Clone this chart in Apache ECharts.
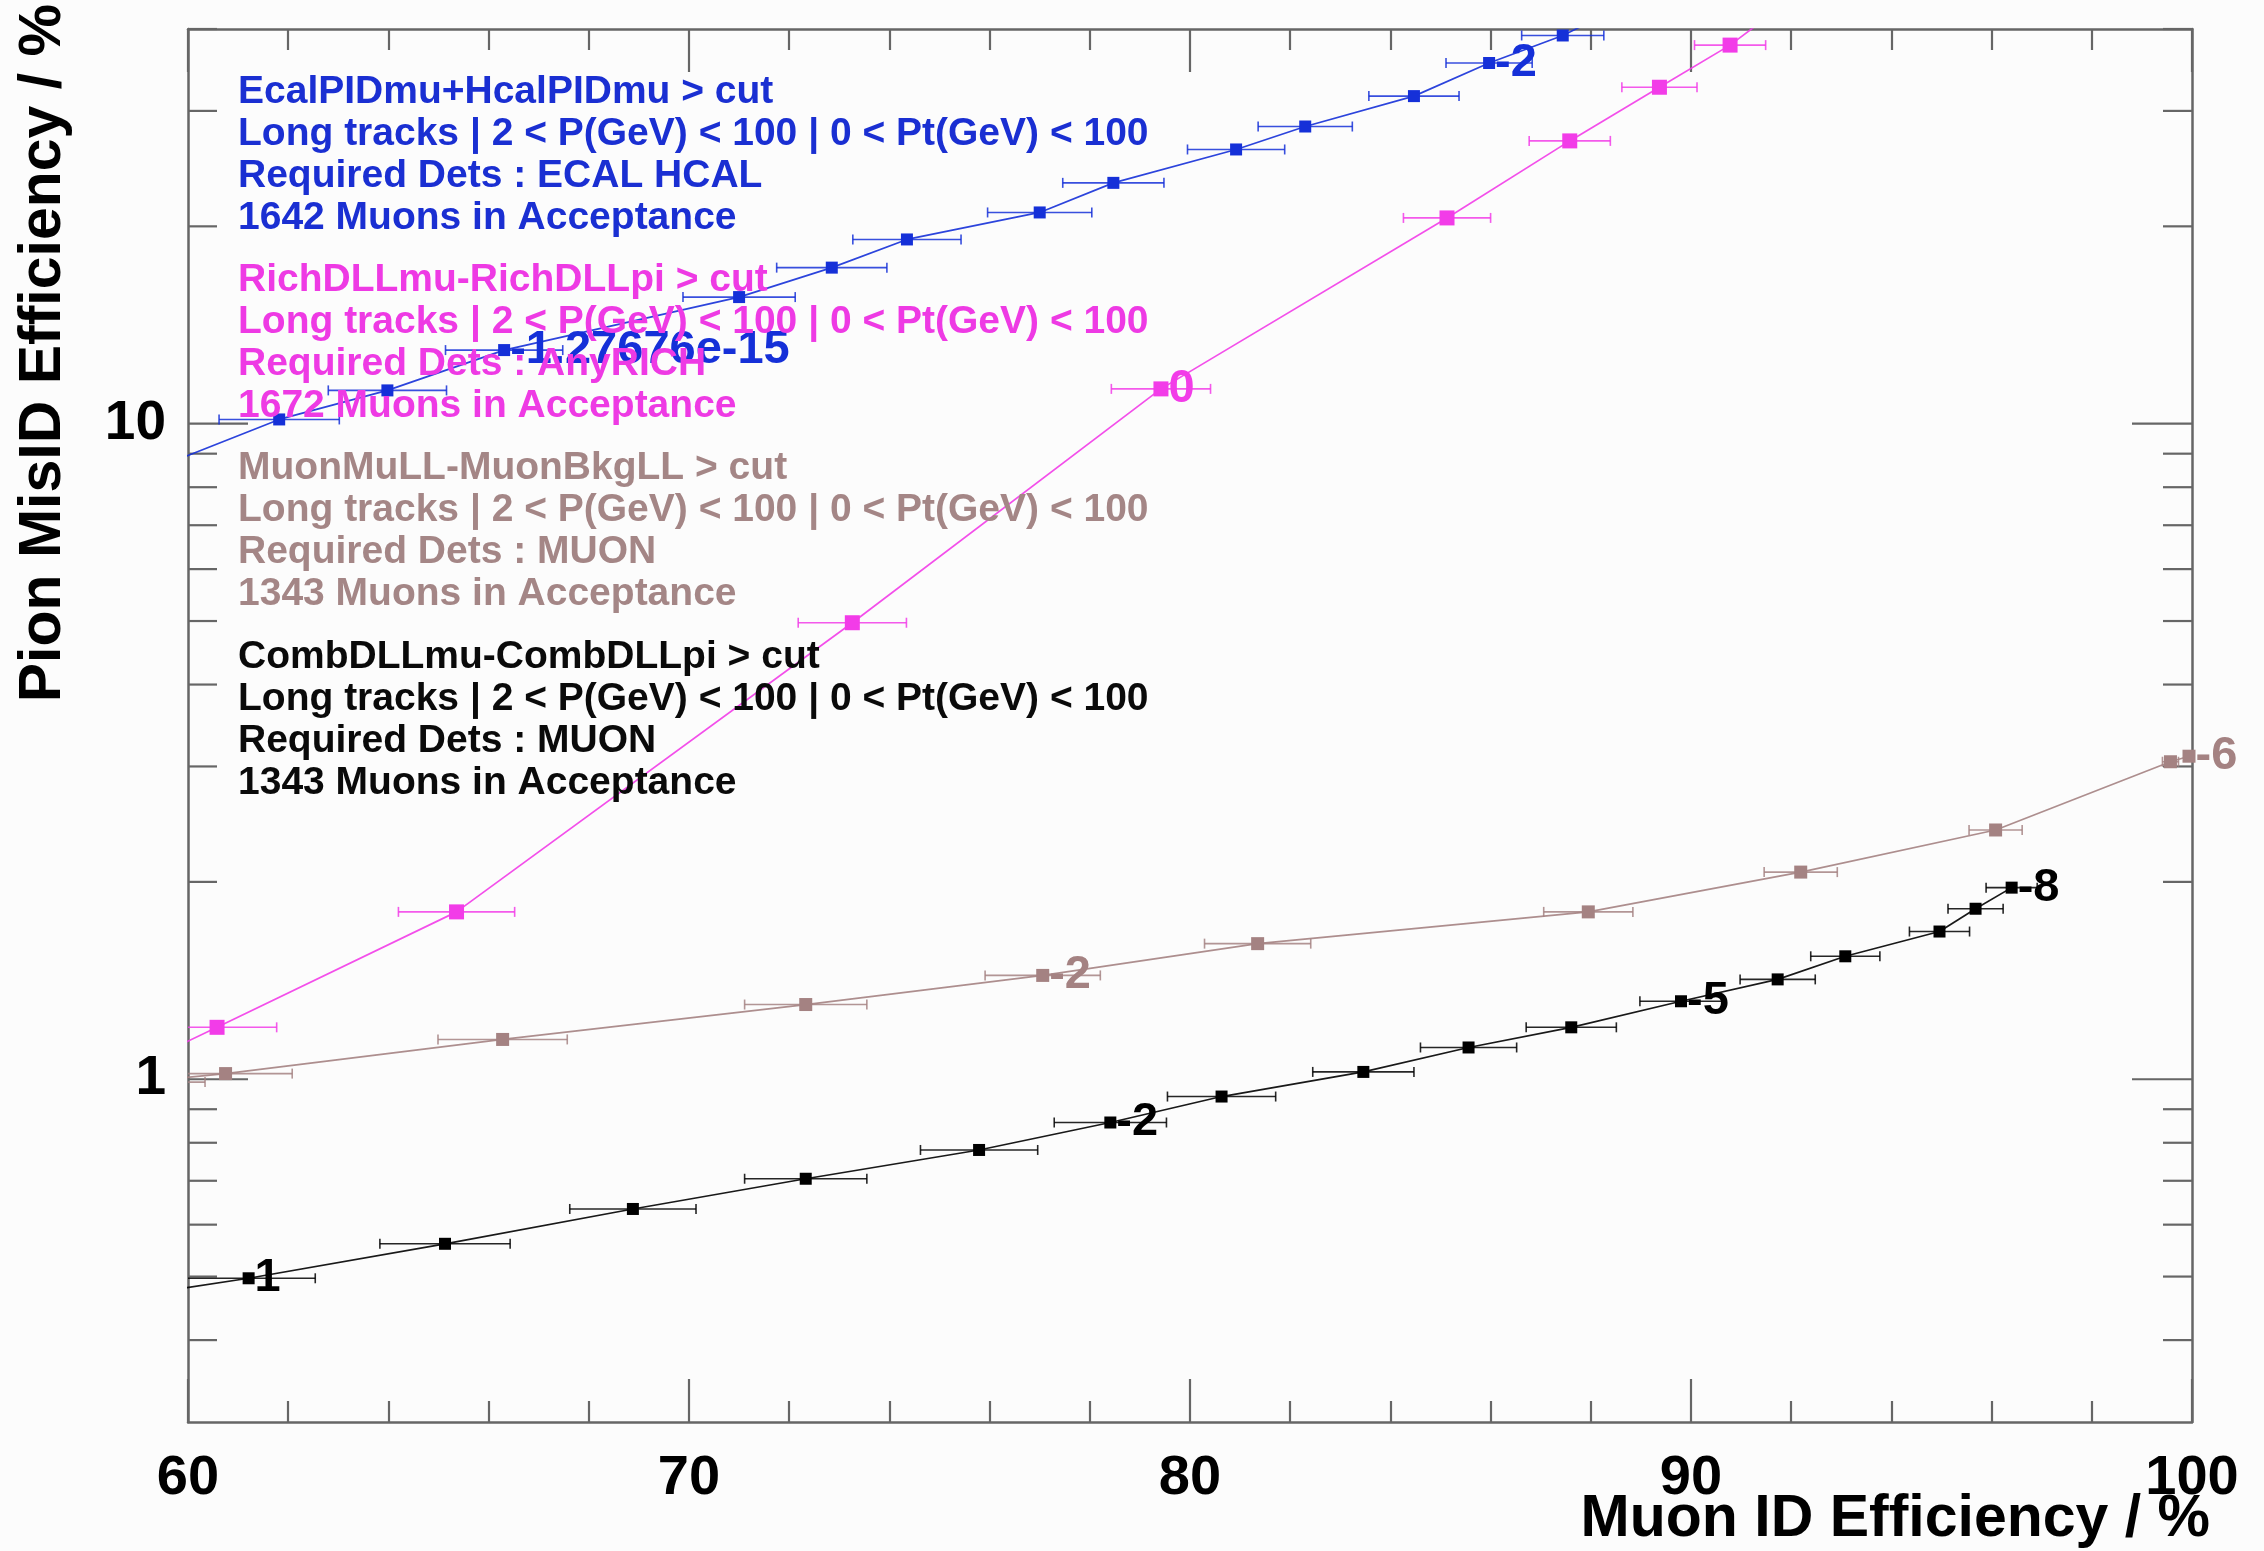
<!DOCTYPE html>
<html>
<head>
<meta charset="utf-8">
<script src="https://cdn.jsdelivr.net/npm/echarts@6/dist/echarts.min.js"></script>
<style>
  html, body { margin: 0; padding: 0; background: #fcfcfc; }
  #chart { width: 2264px; height: 1551px; }
</style>
</head>
<body>
<div id="chart"></div>
<script>
// Muon ID efficiency (%) vs pion mis-ID efficiency (%) scanned over the cut value
// of four PID variables. Each point has a binomial error on the efficiency.

// EcalPIDmu+HcalPIDmu
const ecalEff      = [58.4, 61.82, 63.98, 66.31, 71.0, 72.85, 74.35, 77.0, 78.47, 80.92, 82.3, 84.47, 85.97, 87.44, 88.8];
const ecalMisID    = [8.0, 10.15, 11.24, 12.95, 15.6, 17.3, 19.1, 21.0, 23.3, 26.2, 28.4, 31.6, 35.5, 39.1, 44.0];
const ecalEffErr   = [1.22, 1.2, 1.18, 1.17, 1.12, 1.1, 1.08, 1.04, 1.01, 0.97, 0.94, 0.9, 0.86, 0.82, 0.78];
const ecalCutLabel = ['', '', '', '-1.27676e-15', '', '', '', '', '', '', '', '', '-2', '', ''];

// RichDLLmu-RichDLLpi
const richEff      = [57.8, 60.58, 65.36, 73.26, 79.42, 85.13, 87.58, 89.37, 90.78, 92.1];
const richMisID    = [0.95, 1.20, 1.80, 4.97, 11.3, 20.6, 27.0, 32.6, 37.8, 45.0];
const richEffErr   = [1.21, 1.19, 1.16, 1.08, 0.99, 0.87, 0.81, 0.75, 0.71, 0.66];
const richCutLabel = ['', '', '', '', '0', '', '', '', '', ''];

// MuonMuLL-MuonBkgLL
const muonEff      = [59.0, 60.75, 66.28, 72.33, 77.06, 81.35, 87.95, 92.19, 96.08, 99.57, 99.94];
const muonMisID    = [0.99, 1.02, 1.15, 1.30, 1.44, 1.61, 1.80, 2.07, 2.40, 3.05, 3.11];
const muonEffErr   = [1.34, 1.33, 1.29, 1.22, 1.15, 1.06, 0.89, 0.73, 0.53, 0.16, 0.07];
const muonCutLabel = ['', '', '', '', '-2', '', '', '', '', '', '-6'];

// CombDLLmu-CombDLLpi
const combEff      = [57.5, 61.21, 65.13, 68.88, 72.33, 75.79, 78.41, 80.63, 83.46, 85.56, 87.61, 89.80, 91.73, 93.08, 94.96, 95.68, 96.40];
const combMisID    = [0.45, 0.497, 0.561, 0.634, 0.705, 0.780, 0.859, 0.941, 1.026, 1.118, 1.20, 1.315, 1.42, 1.54, 1.68, 1.82, 1.96];
const combEffErr   = [1.35, 1.33, 1.3, 1.26, 1.22, 1.17, 1.12, 1.08, 1.01, 0.96, 0.9, 0.82, 0.75, 0.69, 0.6, 0.55, 0.51];
const combCutLabel = ['', '1', '', '', '', '', '-2', '', '', '', '', '-5', '', '', '', '', '-8'];

// Axis ticks
const xTickLabels  = ['60', '70', '80', '90', '100'];
const yMajorTicks  = [1, 10];
const yMinorTicks  = [0.4, 0.5, 0.6, 0.7, 0.8, 0.9, 2, 3, 4, 5, 6, 7, 8, 9, 20, 30, 40];
const yTickLabels  = ['1', '10'];

// Text blocks describing each selection
const ecalText = ['EcalPIDmu+HcalPIDmu > cut', 'Long tracks | 2 < P(GeV) < 100 | 0 < Pt(GeV) < 100', 'Required Dets : ECAL HCAL', '1642 Muons in Acceptance'];
const richText = ['RichDLLmu-RichDLLpi > cut', 'Long tracks | 2 < P(GeV) < 100 | 0 < Pt(GeV) < 100', 'Required Dets : AnyRICH', '1672 Muons in Acceptance'];
const muonText = ['MuonMuLL-MuonBkgLL > cut', 'Long tracks | 2 < P(GeV) < 100 | 0 < Pt(GeV) < 100', 'Required Dets : MUON', '1343 Muons in Acceptance'];
const combText = ['CombDLLmu-CombDLLpi > cut', 'Long tracks | 2 < P(GeV) < 100 | 0 < Pt(GeV) < 100', 'Required Dets : MUON', '1343 Muons in Acceptance'];

const FONT = '"Liberation Sans", Arial, Helvetica, sans-serif';
const AXIS_COLOR = '#666666';
const X_MIN = 60, X_MAX = 100;

const curves = [
  { eff: ecalEff, mis: ecalMisID, err: ecalEffErr, cut: ecalCutLabel, color: '#1530d8', size: 12, text: ecalText, textColor: '#1a2fd2' },
  { eff: richEff, mis: richMisID, err: richEffErr, cut: richCutLabel, color: '#f23ce8', size: 15, text: richText, textColor: '#ee3ae4' },
  { eff: muonEff, mis: muonMisID, err: muonEffErr, cut: muonCutLabel, color: '#a48282', size: 13, text: muonText, textColor: '#a48686' },
  { eff: combEff, mis: combMisID, err: combEffErr, cut: combCutLabel, color: '#000000', size: 12, text: combText, textColor: '#0a0a0a' }
];

function errorBarRenderer(color) {
  return function (params, api) {
    const x = api.value(0), y = api.value(1), e = api.value(2);
    const a = api.coord([x - e, y]);
    const b = api.coord([x + e, y]);
    const cap = 5;
    const style = { stroke: color, lineWidth: 1.6, opacity: 0.85 };
    return {
      type: 'group',
      children: [
        { type: 'line', shape: { x1: a[0], y1: a[1], x2: b[0], y2: b[1] }, style: style },
        { type: 'line', shape: { x1: a[0], y1: a[1] - cap, x2: a[0], y2: a[1] + cap }, style: style },
        { type: 'line', shape: { x1: b[0], y1: b[1] - cap, x2: b[0], y2: b[1] + cap }, style: style }
      ]
    };
  };
}

const series = [];
curves.forEach(function (c) {
  series.push({
    type: 'custom',
    data: c.eff.map(function (x, i) { return [x, c.mis[i], c.err[i]]; }),
    renderItem: errorBarRenderer(c.color),
    clip: true,
    silent: true,
    z: 2
  });
  series.push({
    type: 'line',
    data: c.eff.map(function (x, i) {
      const item = { value: [x, c.mis[i]] };
      if (c.cut[i]) item.label = { show: true, formatter: c.cut[i] };
      return item;
    }),
    symbol: 'rect',
    symbolSize: c.size,
    showAllSymbol: true,
    clip: true,
    itemStyle: { color: c.color },
    lineStyle: { color: c.color, width: 1.7, opacity: 0.9 },
    label: {
      show: false, position: 'right', distance: 0,
      fontFamily: FONT, fontWeight: 'bold', fontSize: 47, color: c.color
    },
    emphasis: { disabled: true },
    z: 3
  });
});

// Log-axis ticks (decades long, 2..9 short) on both left and right frame edges
series.push({
  type: 'custom',
  data: yMinorTicks.map(function (v) { return [X_MIN, v, 0]; })
        .concat(yMajorTicks.map(function (v) { return [X_MIN, v, 1]; })),
  renderItem: function (params, api) {
    const v = api.value(1);
    const len = api.value(2) ? 60 : 29;
    const l = api.coord([X_MIN, v]);
    const r = api.coord([X_MAX, v]);
    const style = { stroke: AXIS_COLOR, lineWidth: 2.2 };
    return {
      type: 'group',
      children: [
        { type: 'line', shape: { x1: l[0], y1: l[1], x2: l[0] + len, y2: l[1] }, style: style },
        { type: 'line', shape: { x1: r[0] - len, y1: r[1], x2: r[0], y2: r[1] }, style: style }
      ]
    };
  },
  silent: true,
  z: 1
});

// Selection descriptions
const graphics = [];
const blockTop = [92, 280, 468, 657];
const lineStep = 42;
curves.forEach(function (c, k) {
  c.text.forEach(function (t, j) {
    graphics.push({
      type: 'text',
      x: 238, y: blockTop[k] + j * lineStep,
      style: {
        text: t, fill: c.textColor, fontFamily: FONT, fontWeight: 'bold', fontSize: 39,
        textAlign: 'left', textVerticalAlign: 'middle'
      },
      z: 10
    });
  });
});
// Axis titles
graphics.push({
  type: 'text', x: 2210, y: 1520,
  style: { text: 'Muon ID Efficiency / %', fill: '#000', fontFamily: FONT, fontWeight: 'bold', fontSize: 59,
           textAlign: 'right', textVerticalAlign: 'middle' },
  z: 10
});
graphics.push({
  type: 'text', x: 44, y: 4, rotation: Math.PI / 2,
  style: { text: 'Pion MisID Efficiency / %', fill: '#000', fontFamily: FONT, fontWeight: 'bold', fontSize: 59,
           textAlign: 'right', textVerticalAlign: 'middle' },
  z: 10
});

const xTickStyle = {
  axisLine: { show: true, onZero: false, lineStyle: { color: AXIS_COLOR, width: 2.5 } },
  axisTick: { show: true, inside: true, length: 43, lineStyle: { color: AXIS_COLOR, width: 2.2 } },
  minorTick: { show: true, splitNumber: 5, length: 21, lineStyle: { color: AXIS_COLOR, width: 2.2 } },
  splitLine: { show: false },
  minorSplitLine: { show: false }
};

const option = {
  backgroundColor: '#fcfcfc',
  animation: false,
  grid: { left: 188, right: 72, top: 29, bottom: 129, containLabel: false, outerBoundsMode: 'none' },
  xAxis: [
    Object.assign({
      type: 'value', min: X_MIN, max: X_MAX, interval: 10, position: 'bottom',
      axisLabel: {
        fontFamily: FONT, fontWeight: 'bold', fontSize: 56, color: '#000', margin: 29,
        formatter: function (v) { const s = String(Math.round(v)); return xTickLabels.indexOf(s) >= 0 ? s : ''; }
      }
    }, xTickStyle),
    Object.assign({
      type: 'value', min: X_MIN, max: X_MAX, interval: 10, position: 'top',
      axisLabel: { show: false }
    }, xTickStyle)
  ],
  yAxis: [
    {
      type: 'log', logBase: 10, min: 0.3, max: 40, position: 'left',
      axisLine: { show: true, onZero: false, lineStyle: { color: AXIS_COLOR, width: 2.5 } },
      axisTick: { show: false },
      splitLine: { show: false },
      axisLabel: {
        fontFamily: FONT, fontWeight: 'bold', fontSize: 55, color: '#000', margin: 22,
        showMinLabel: false, showMaxLabel: false,
        formatter: function (v) { const s = String(Math.round(v)); return (Math.abs(v - Math.round(v)) < 1e-6 && yTickLabels.indexOf(s) >= 0) ? s : ''; }
      }
    },
    {
      type: 'log', logBase: 10, min: 0.3, max: 40, position: 'right',
      axisLine: { show: true, onZero: false, lineStyle: { color: AXIS_COLOR, width: 2.5 } },
      axisTick: { show: false },
      splitLine: { show: false },
      axisLabel: { show: false }
    }
  ],
  graphic: graphics,
  series: series
};

const chart = echarts.init(document.getElementById('chart'), null, { renderer: 'canvas' });
chart.setOption(option);
</script>
</body>
</html>
